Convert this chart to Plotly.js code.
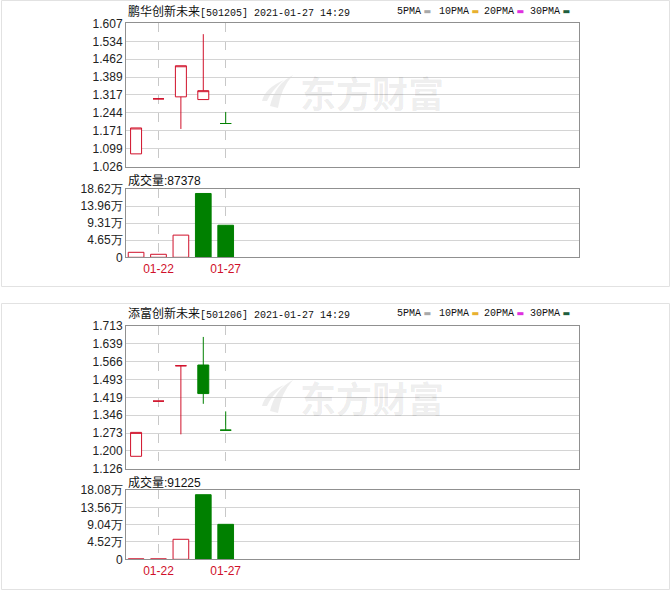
<!DOCTYPE html>
<html>
<head>
<meta charset="utf-8">
<script src="https://cdn.plot.ly/plotly-3.0.1.min.js"></script>
<style>html,body{margin:0;padding:0;background:#fff;}#chart{width:671px;height:591px;}</style>
</head>
<body>
<div id="chart"></div>
<script>
// ---- data ----
const dates = ['01-21', '01-22', '01-25', '01-26', '01-27'];
const xTickDates = ['01-22', '01-27'];

// 鹏华创新未来 [501205]
const name1 = '鹏华创新未来';
const code1 = '501205';
const open1  = [1.078, 1.301, 1.309, 1.298, 1.201];
const high1  = [1.183, 1.301, 1.435, 1.563, 1.248];
const low1   = [1.078, 1.301, 1.179, 1.298, 1.201];
const close1 = [1.183, 1.301, 1.435, 1.334, 1.201];
const volume1 = [13600, 8200, 60500, 174000, 87378];
const priceTicks1 = [1.026, 1.099, 1.171, 1.244, 1.317, 1.389, 1.462, 1.534, 1.607];
const volTicks1 = [0, 46550, 93100, 139650, 186200];
const volTickText1 = ['0', '4.65万', '9.31万', '13.96万', '18.62万'];

// 添富创新未来 [501206]
const name2 = '添富创新未来';
const code2 = '501206';
const open2  = [1.178, 1.404, 1.549, 1.552, 1.285];
const high2  = [1.276, 1.404, 1.549, 1.667, 1.362];
const low2   = [1.178, 1.404, 1.268, 1.393, 1.285];
const close2 = [1.276, 1.404, 1.549, 1.435, 1.285];
const volume2 = [1200, 1200, 52200, 168500, 91225];
const priceTicks2 = [1.126, 1.200, 1.273, 1.346, 1.419, 1.493, 1.566, 1.639, 1.713];
const volTicks2 = [0, 45200, 90400, 135600, 180800];
const volTickText2 = ['0', '4.52万', '9.04万', '13.56万', '18.08万'];

const timestamp = '2021-01-27 14:29';
const maNames = ['5PMA', '10PMA', '20PMA', '30PMA'];
const maColors = ['#a8a8a8', '#e8b030', '#e030e0', '#1e5e3e'];

// ---- style ----
const RED = '#d0102a';
const GREEN = '#008000';
const W = 671, H = 591;
const px = v => v / W;
const py = v => 1 - v / H;

function volColors(o, c) {
  return c.map((v, i) => (i === 0 ? v >= o[i] : v >= c[i - 1]));
}

function panelTraces(o, h, l, c, vol, xa, ya, yv) {
  const up = volColors(o, c);
  return [
    {
      type: 'candlestick', x: dates, open: o, high: h, low: l, close: c,
      xaxis: xa, yaxis: ya, hoverinfo: 'skip', showlegend: false,
      increasing: {line: {color: RED, width: 1}, fillcolor: '#ffffff'},
      decreasing: {line: {color: GREEN, width: 1}, fillcolor: GREEN},
      whiskerwidth: 0
    },
    {
      type: 'bar', x: dates, y: vol, xaxis: xa, yaxis: yv, hoverinfo: 'skip', showlegend: false,
      marker: {
        color: up.map(u => (u ? '#ffffff' : GREEN)),
        line: {color: up.map(u => (u ? RED : GREEN)), width: 1}
      }
    }
  ];
}

const traces = [
  ...panelTraces(open1, high1, low1, close1, volume1, 'x', 'y', 'y2'),
  ...panelTraces(open2, high2, low2, close2, volume2, 'x2', 'y3', 'y4')
];

const plotX = [px(126), px(579)];

function xAxis(anchor) {
  return {
    type: 'category', categoryorder: 'array', categoryarray: dates,
    range: [-0.45, 19.77], domain: plotX, anchor: anchor,
    tickmode: 'array', tickvals: xTickDates, ticktext: xTickDates,
    tickfont: {color: RED, size: 12, family: 'Liberation Sans, Arial, sans-serif'},
    showgrid: true, gridcolor: '#c8c8c8', griddash: 'dash', gridwidth: 1,
    showline: true, linecolor: '#909090', linewidth: 1, mirror: 'all',
    ticks: '', zeroline: false, fixedrange: true,
    rangeslider: {visible: false}
  };
}

function yAxis(domain, anchor, range, tickvals, ticktext) {
  return {
    domain: domain, anchor: anchor, range: range,
    tickmode: 'array', tickvals: tickvals, ticktext: ticktext,
    showgrid: true, gridcolor: '#d4d4d4', gridwidth: 1,
    showline: true, linecolor: '#909090', linewidth: 1, mirror: true,
    ticks: '', zeroline: false, fixedrange: true,
    tickfont: {size: 12, color: '#222', family: 'Liberation Sans, Arial, sans-serif'}
  };
}

const fmt3 = v => v.toFixed(3);

function header(name, code, yc, volY, vol) {
  const anns = [];
  anns.push({
    xref: 'paper', yref: 'paper', x: px(126), y: py(yc), xanchor: 'left', yanchor: 'middle',
    showarrow: false,
    text: name + '<span style="font-family:Liberation Mono;font-size:10px">[' + code + '] ' + timestamp + '</span>',
    font: {family: 'Noto Sans CJK SC, sans-serif', size: 12, color: '#111'}
  });
  const mx = [395, 436.7, 482.3, 528];
  maNames.forEach((n, i) => {
    anns.push({
      xref: 'paper', yref: 'paper', x: px(mx[i]), y: py(yc + 0.5), xanchor: 'left', yanchor: 'middle',
      showarrow: false,
      text: n + '<span style="color:' + maColors[i] + ';font-family:DejaVu Sans;font-size:8px"> ▬</span>',
      font: {family: 'Liberation Mono, monospace', size: 10, color: '#111'}
    });
  });
  anns.push({
    xref: 'paper', yref: 'paper', x: px(126), y: py(volY), xanchor: 'left', yanchor: 'middle',
    showarrow: false,
    text: '成交量<span style="font-family:Liberation Sans">:' + vol[vol.length - 1] + '</span>',
    font: {family: 'Noto Sans CJK SC, sans-serif', size: 12, color: '#111'}
  });
  return anns;
}

function watermark(yc) {
  return {
    xref: 'paper', yref: 'paper', x: px(372), y: py(yc), xanchor: 'center', yanchor: 'middle',
    showarrow: false, text: '<b>东方财富</b>',
    font: {family: 'Noto Sans CJK SC, sans-serif', size: 36, color: 'rgba(0,0,0,0.075)'}
  };
}

// decorative logo glyph of the watermark (pixel points converted to paper coords)
function logo(yc) {
  const pts = (arr) => arr.map(p => [px(p[0]).toFixed(5), py(p[1] + yc - 92).toFixed(5)]);
  const a = pts([[293, 75], [275, 84], [270, 106], [278, 108], [281, 88], [293, 75]]);
  const b = pts([[284, 80], [265, 88], [262, 101], [267, 101], [272, 90], [284, 80]]);
  const path = (q) => 'M' + q[0].join(',') + ' Q' + q[1].join(',') + ' ' + q[2].join(',') +
    ' L' + q[3].join(',') + ' Q' + q[4].join(',') + ' ' + q[5].join(',') + ' Z';
  return [a, b].map(q => ({
    type: 'path', xref: 'paper', yref: 'paper', path: path(q),
    fillcolor: 'rgba(0,0,0,0.07)', line: {width: 0}, layer: 'below'
  }));
}

const layout = {
  width: W, height: H,
  margin: {l: 0, r: 0, t: 0, b: 0},
  paper_bgcolor: '#ffffff', plot_bgcolor: 'rgba(0,0,0,0)',
  font: {family: 'Liberation Sans, Noto Sans CJK SC, sans-serif', size: 12, color: '#222'},
  showlegend: false,
  bargap: 0.3, boxgap: 0.3,
  xaxis: xAxis('y2'),
  xaxis2: xAxis('y4'),
  yaxis: yAxis([py(166.7), py(23.3)], 'x', [priceTicks1[0], priceTicks1[priceTicks1.length - 1]], priceTicks1, priceTicks1.map(fmt3)),
  yaxis2: yAxis([py(257.3), py(189)], 'x', [0, volTicks1[volTicks1.length - 1]], volTicks1, volTickText1),
  yaxis3: yAxis([py(469), py(325.7)], 'x2', [priceTicks2[0], priceTicks2[priceTicks2.length - 1]], priceTicks2, priceTicks2.map(fmt3)),
  yaxis4: yAxis([py(559.3), py(490)], 'x2', [0, volTicks2[volTicks2.length - 1]], volTicks2, volTickText2),
  shapes: [
    {type: 'rect', xref: 'paper', yref: 'paper', x0: px(1.5), x1: px(669.5), y0: py(286.5), y1: py(0.5),
     line: {color: '#e2e2e2', width: 1}, layer: 'below'},
    {type: 'rect', xref: 'paper', yref: 'paper', x0: px(1.5), x1: px(669.5), y0: py(589.5), y1: py(303.5),
     line: {color: '#e2e2e2', width: 1}, layer: 'below'},
    ...logo(92), ...logo(397)
  ],
  annotations: [
    watermark(92), watermark(397),
    ...header(name1, code1, 11, 179, volume1),
    ...header(name2, code2, 312.5, 481.7, volume2)
  ]
};

Plotly.newPlot('chart', traces, layout, {displayModeBar: false, staticPlot: true});
</script>
</body>
</html>
